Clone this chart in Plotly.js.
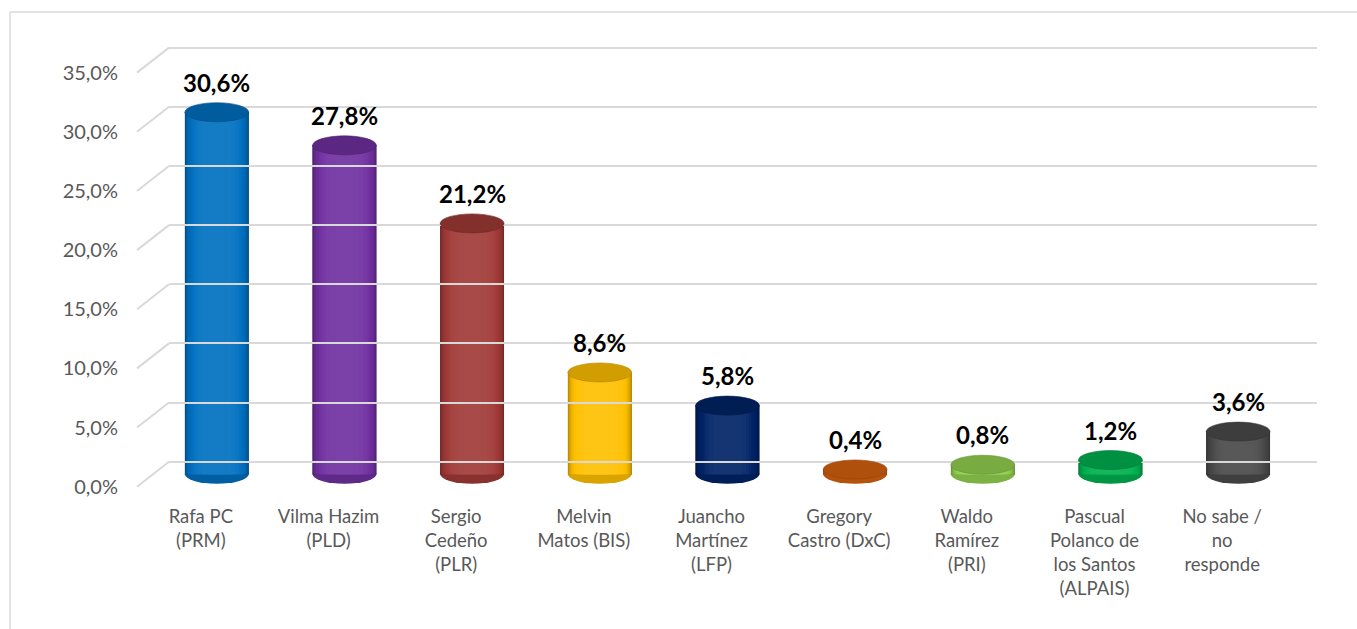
<!DOCTYPE html>
<html>
<head>
<meta charset="utf-8">
<script src="https://cdn.plot.ly/plotly-3.0.1.min.js"></script>
<style>html,body{margin:0;padding:0;background:#fff;}#chart{width:1357px;height:629px;}</style>
</head>
<body>
<div id="chart"></div>
<script>
// ---- data ----
const categories = [
  "Rafa PC<br>(PRM)",
  "Vilma Hazim<br>(PLD)",
  "Sergio<br>Cedeño<br>(PLR)",
  "Melvin<br>Matos (BIS)",
  "Juancho<br>Martínez<br>(LFP)",
  "Gregory<br>Castro (DxC)",
  "Waldo<br>Ramírez<br>(PRI)",
  "Pascual<br>Polanco de<br>los Santos<br>(ALPAIS)",
  "No sabe /<br>no<br>responde"
];
const values = [30.6, 27.8, 21.2, 8.6, 5.8, 0.4, 0.8, 1.2, 3.6];
const colors = ["#0070C0", "#7030A0", "#A03A37", "#FFC000", "#002366", "#D5620F", "#92D050", "#00B050", "#4A4A4A"];
const tickValues = [0, 5, 10, 15, 20, 25, 30, 35];

// ---- geometry (pixels) ----
const W = 1357, H = 629;
const P = py => 1 - py / H;
const scale = 11.83;          // px per percentage point
const frontZero = 486.7;      // front plane (tick labels)
const midZero = 474.2;        // bar centres (mid depth)
const backZero = 461.7;       // back wall (gridlines)
const xFront0 = 137, xFront1 = 1286;
const depthX = 32;            // back wall shift to the right
const barShift = 0.125;       // mid-depth shift, category units
const barW = 0.5;
const yMin = -1.2, yMax = 35.5;
const FONT = "Lato, 'Open Sans', sans-serif";

function shade(hex, f) {
  const n = parseInt(hex.slice(1), 16);
  let r = (n >> 16) & 255, g = (n >> 8) & 255, b = n & 255;
  const adj = c => f <= 1 ? Math.round(c * f) : Math.round(c + (255 - c) * (f - 1));
  return "rgb(" + adj(r) + "," + adj(g) + "," + adj(b) + ")";
}
const idx = categories.map((c, i) => i);

// cylinder body: stacked layers from dark edge to lighter centre (smooth steps)
const layers = [];
const NL = 14;
for (let k = 0; k < NL; k++) {
  const t = k / (NL - 1);               // 0 = outer edge, 1 = centre
  const w = barW * Math.sqrt(1 - t * t * 0.92);
  const f = 0.62 + 0.46 * Math.sin(t * Math.PI / 2);
  layers.push({w: w, f: f});
}
const traces = layers.map(L => ({
  type: "bar",
  x: idx,
  y: values,
  width: L.w,
  offset: barShift - L.w / 2,
  marker: {color: colors.map(c => shade(c, L.f)), line: {width: 0}},
  hoverinfo: "skip",
  showlegend: false
}));
// empty traces to create the back-wall subplot and the front label axis
traces.push({type: "scatter", x: [], y: [], xaxis: "x2", yaxis: "y2", hoverinfo: "skip", showlegend: false});
traces.push({type: "scatter", x: [], y: [], xaxis: "x", yaxis: "y3", hoverinfo: "skip", showlegend: false});

const shapes = [];
// chart border (left + top)
shapes.push({type: "line", xref: "paper", yref: "paper", x0: 10 / W, x1: 1, y0: P(12), y1: P(12), line: {color: "#d9d9d9", width: 1.5}, layer: "below"});
shapes.push({type: "line", xref: "paper", yref: "paper", x0: 10 / W, x1: 10 / W, y0: P(12), y1: 0, line: {color: "#d9d9d9", width: 1.5}, layer: "below"});
// side diagonals of the 3D wall
tickValues.forEach(v => {
  shapes.push({type: "line", xref: "paper", yref: "paper",
    x0: xFront0 / W, y0: P(frontZero - v * scale),
    x1: (xFront0 + depthX) / W, y1: P(backZero - v * scale),
    line: {color: "#d9d9d9", width: 2}, layer: "below"});
});
// ellipses (bottom and top of each cylinder)
const eh = 9.5 / scale;
values.forEach((v, i) => {
  const x0 = i + barShift - barW / 2, x1 = i + barShift + barW / 2;
  shapes.push({type: "circle", xref: "x", yref: "y", x0: x0, x1: x1, y0: -eh, y1: eh,
    fillcolor: shade(colors[i], 0.85), line: {width: 0}, layer: "between"});
  shapes.push({type: "circle", xref: "x", yref: "y", x0: x0, x1: x1, y0: v - eh, y1: v + eh,
    fillcolor: shade(colors[i], 0.82), line: {width: 0.6, color: shade(colors[i], 0.7)}, layer: "above"});
});

const annotations = values.map((v, i) => ({
  x: i, y: v, xref: "x", yref: "y",
  text: v.toFixed(1).replace(".", ",") + "%",
  showarrow: false, xshift: 16, yshift: 30, yanchor: "middle",
  font: {family: FONT, size: 24, color: "#000000", weight: "bold"}
}));

const layout = {
  width: W, height: H,
  margin: {l: 0, r: 0, t: 0, b: 0},
  paper_bgcolor: "#ffffff", plot_bgcolor: "rgba(0,0,0,0)",
  separators: ",.",
  barmode: "overlay",
  showlegend: false,
  font: {family: FONT, color: "#595959", size: 18},
  xaxis: {
    domain: [xFront0 / W, xFront1 / W],
    range: [-0.5, categories.length - 0.5],
    tickmode: "array", tickvals: idx, ticktext: categories,
    showgrid: false, zeroline: false, showline: false, ticks: "",
    ticklabelstandoff: 15,
    tickfont: {size: 18.5, color: "#595959"},
    fixedrange: true
  },
  yaxis: {
    domain: [P(midZero - yMin * scale), P(midZero - yMax * scale)],
    range: [yMin, yMax],
    showgrid: false, zeroline: false, showline: false, showticklabels: false, ticks: "",
    fixedrange: true
  },
  yaxis3: {
    domain: [P(frontZero - yMin * scale), P(frontZero - yMax * scale)],
    range: [yMin, yMax], anchor: "x",
    tickmode: "array", tickvals: tickValues,
    ticktext: tickValues.map(v => v.toFixed(1).replace(".", ",") + "%"),
    showgrid: false, zeroline: false, showline: false, ticks: "",
    ticklabelstandoff: 18,
    tickfont: {size: 20, color: "#595959"},
    fixedrange: true
  },
  xaxis2: {
    domain: [(xFront0 + depthX) / W, 1317 / W], range: [0, 1], anchor: "y2",
    showgrid: false, zeroline: false, showline: false, showticklabels: false, ticks: "", fixedrange: true
  },
  yaxis2: {
    domain: [P(backZero + 1 * scale), P(backZero - 36 * scale)], range: [-1, 36], anchor: "x2",
    tickmode: "array", tickvals: tickValues,
    showgrid: true, gridcolor: "#d9d9d9", gridwidth: 2,
    zeroline: false, showline: false, showticklabels: false, ticks: "", fixedrange: true
  },
  shapes: shapes,
  annotations: annotations
};

Plotly.newPlot("chart", traces, layout, {displayModeBar: false, staticPlot: true});
</script>
</body>
</html>
